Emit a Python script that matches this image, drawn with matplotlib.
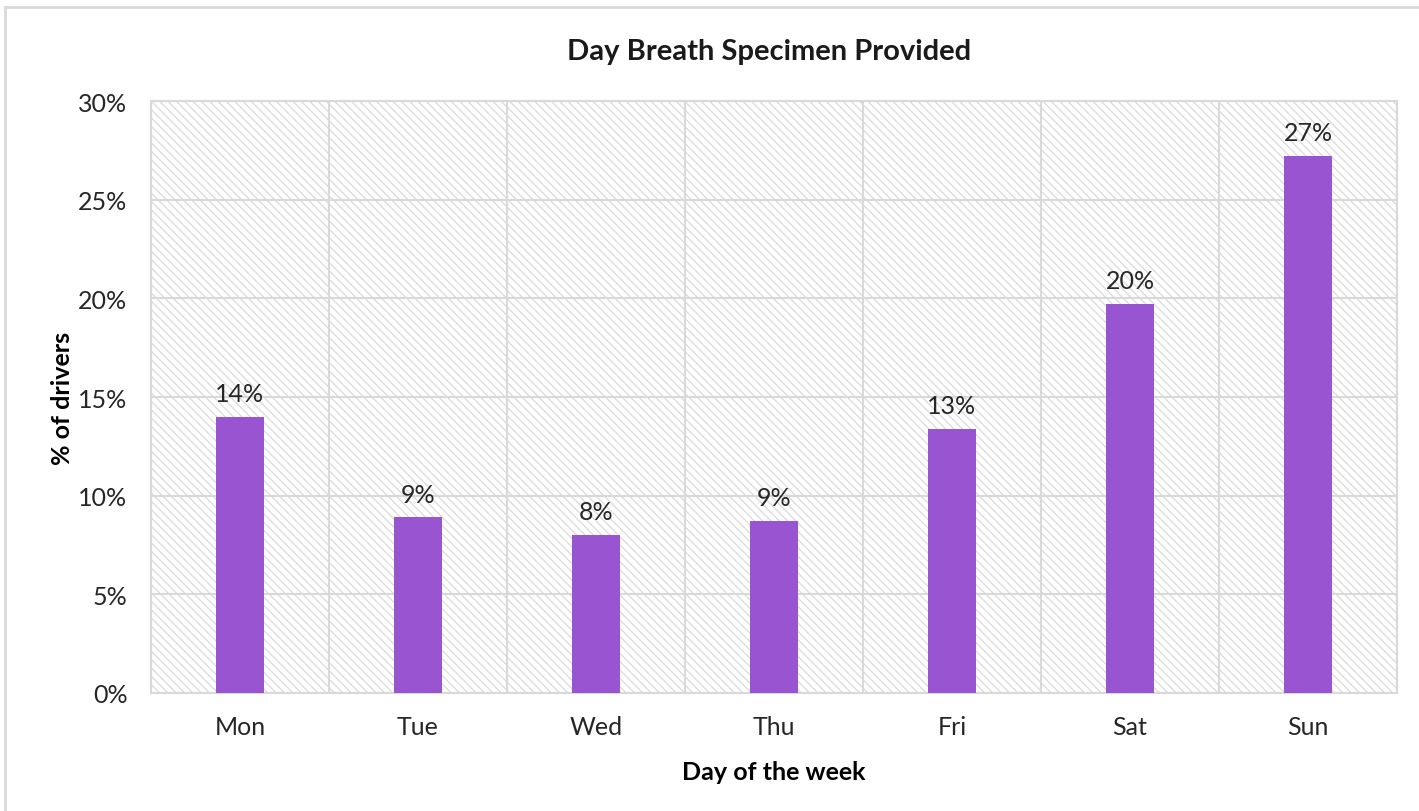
import numpy as np
import matplotlib
matplotlib.use("Agg")
import matplotlib.pyplot as plt
from matplotlib.patches import Rectangle
from matplotlib.lines import Line2D
from matplotlib.ticker import PercentFormatter

# datos
days = ["Mon", "Tue", "Wed", "Thu", "Fri", "Sat", "Sun"]
pct_drivers = [14.0, 8.9, 8.0, 8.7, 13.4, 19.7, 27.2]
bar_labels = ["14%", "9%", "8%", "9%", "13%", "20%", "27%"]
y_ticks = [0, 5, 10, 15, 20, 25, 30]

plt.rcParams["font.family"] = ["Lato", "DejaVu Sans"]
plt.rcParams["hatch.linewidth"] = 0.9

fig = plt.figure(figsize=(14.19, 8.12), dpi=100)
ax = fig.add_axes([151 / 1419, 1 - 694 / 812, 1246 / 1419, 592 / 812])

# fondo rayado
ax.add_patch(Rectangle((0, 0), 1, 1, transform=ax.transAxes, facecolor="white",
                       edgecolor="#dadada", linewidth=0, hatch="\\\\\\\\", zorder=0.5))

x = np.arange(len(days))
ax.bar(x, pct_drivers, width=0.27, color="#9955d1", zorder=3)
for xi, v, lab in zip(x, pct_drivers, bar_labels):
  ax.text(xi, v + 0.6, lab, ha="center", va="bottom", fontsize=18, color="#262626")

ax.set_xlim(-0.5, len(days) - 0.5)
ax.set_ylim(0, 30)
ax.set_yticks(y_ticks)
ax.yaxis.set_major_formatter(PercentFormatter(decimals=0))
ax.set_xticks(x)
ax.set_xticklabels(days)

# rejilla: horizontales en ticks, verticales entre categorias
ax.set_xticks(np.arange(len(days) + 1) - 0.5, minor=True)
ax.grid(axis="y", which="major", color="#d9d9d9", linewidth=1.5, zorder=1)
ax.grid(axis="x", which="minor", color="#d9d9d9", linewidth=1.5, zorder=1)
ax.grid(axis="x", which="major", visible=False)
ax.tick_params(which="both", length=0)
ax.tick_params(axis="both", labelsize=18, labelcolor="#262626")
ax.tick_params(axis="x", pad=16)
ax.tick_params(axis="y", pad=17)

for s in ax.spines.values():
  s.set_color("#d9d9d9")
  s.set_linewidth(1.5)

ax.set_xlabel("Day of the week", fontsize=18, fontweight="bold", labelpad=16)
ax.set_ylabel("% of drivers", fontsize=18, fontweight="bold", labelpad=3)
fig.text(769 / 1419, 1 - 52 / 812, "Day Breath Specimen Provided", ha="center",
         va="center", fontsize=21, fontweight="bold", color="#1a1a1a")

# borde del grafico
fig.add_artist(Line2D([5 / 1419, 5 / 1419], [0, 1 - 8 / 812], transform=fig.transFigure,
                      color="#d9d9d9", linewidth=2))
fig.add_artist(Line2D([5 / 1419, 1], [1 - 8 / 812, 1 - 8 / 812], transform=fig.transFigure,
                      color="#d9d9d9", linewidth=2))

fig.savefig("out.png", dpi=100)
